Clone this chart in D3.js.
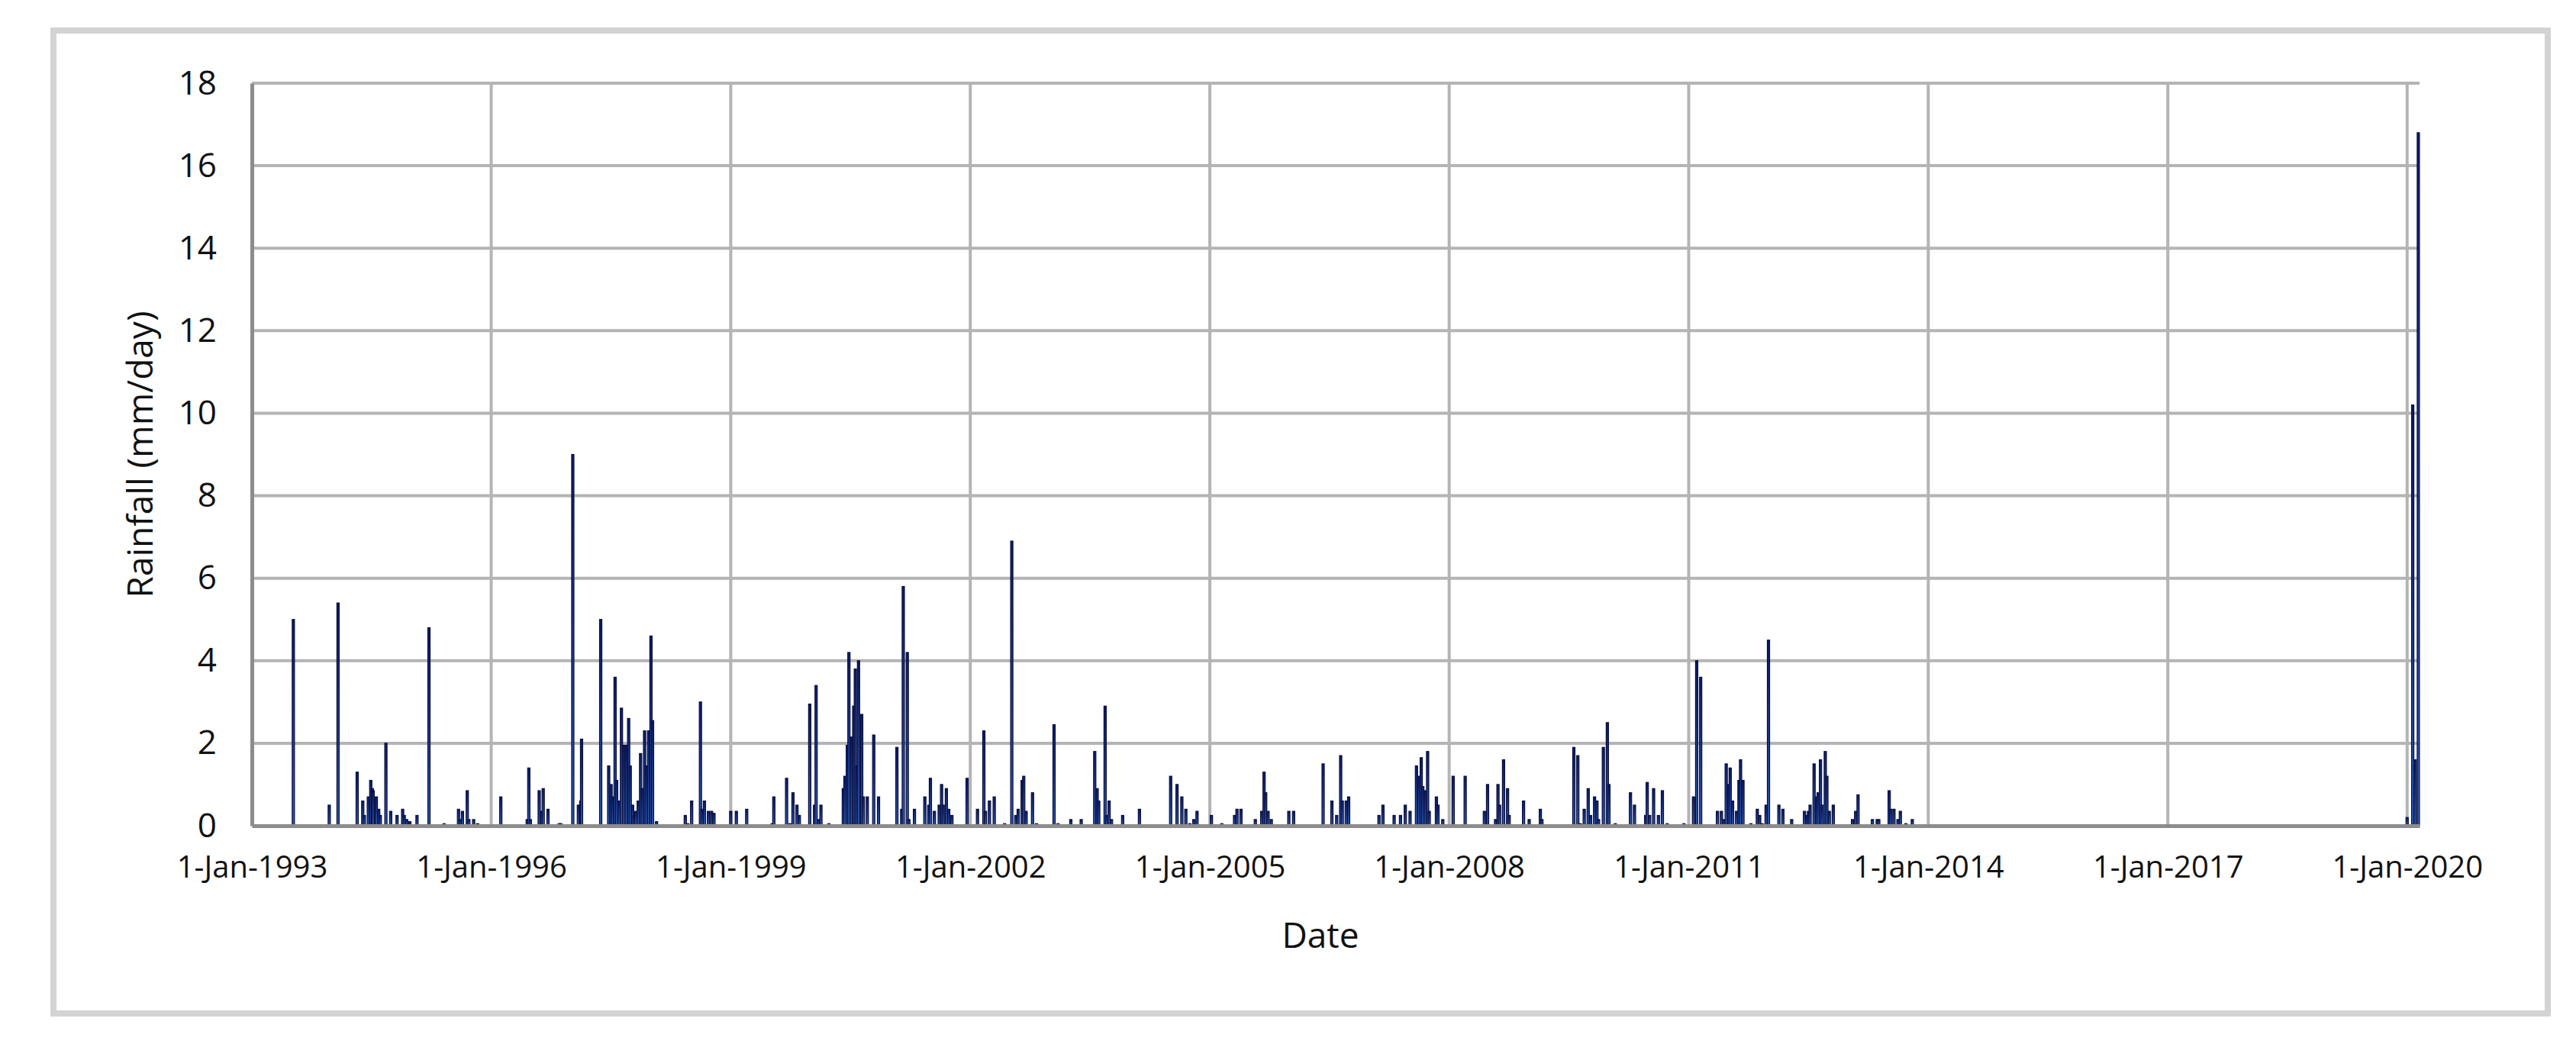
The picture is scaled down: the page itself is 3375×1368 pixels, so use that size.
<!DOCTYPE html>
<html><head><meta charset="utf-8">
<script src="https://cdn.jsdelivr.net/npm/d3@7/dist/d3.min.js"></script>
<style>body{margin:0;background:#fff}svg{display:block}</style>
</head><body>
<svg id="c" width="3375" height="1368"></svg>
<script>
// decimal-year positions of rain days and rainfall (mm/day)
const dates = [
1993.52,1993.97,1994.08,1994.32,1994.39,1994.41,1994.46,1994.49,1994.51,1994.52,1994.56,1994.59,1994.61,1994.68,1994.74,1994.82,1994.89,1994.91,1994.94,1994.98,1995.07,1995.22,
1995.41,1995.59,1995.61,1995.64,1995.70,1995.72,1995.78,1995.83,1996.12,1996.45,1996.47,1996.49,1996.60,1996.63,1996.65,1996.71,1996.85,1996.87,
1997.02,1997.09,1997.12,1997.13,1997.37,
1997.47,1997.50,1997.52,1997.55,1997.57,1997.60,1997.63,1997.66,1997.69,1997.72,1997.74,1997.77,1997.79,1997.81,1997.84,1997.87,1997.89,1997.92,1997.94,1997.97,1998.00,1998.02,1998.07,
1998.43,1998.46,1998.51,1998.62,1998.64,1998.67,1998.72,1998.76,1998.79,1999.00,1999.07,1999.20,1999.52,1999.54,1999.70,1999.74,1999.78,1999.83,1999.86,
1999.99,2000.05,2000.07,2000.10,2000.13,2000.23,
2000.41,2000.43,2000.46,2000.48,2000.51,2000.54,2000.56,2000.58,2000.60,2000.64,2000.66,2000.71,2000.79,2000.85,
2001.08,2001.14,2001.16,2001.21,2001.23,2001.30,2001.43,2001.48,2001.50,2001.55,2001.61,2001.64,2001.66,2001.70,2001.73,2001.77,2001.96,
2002.09,2002.17,2002.19,2002.24,2002.30,2002.43,2002.52,2002.57,2002.60,2002.65,2002.67,2002.70,2002.78,2002.83,2003.05,2003.10,2003.26,2003.39,
2003.56,2003.59,2003.61,2003.69,2003.71,2003.74,2003.77,2003.91,2004.12,2004.51,2004.59,2004.65,2004.70,2004.75,2004.80,2004.84,
2005.02,2005.15,2005.31,2005.34,2005.39,2005.57,2005.65,2005.68,2005.70,2005.73,2005.77,2005.99,2006.05,
2006.42,2006.53,2006.59,2006.64,2006.66,2006.71,2006.74,2007.12,2007.17,
2007.31,2007.39,2007.45,2007.51,2007.59,2007.62,2007.65,2007.67,2007.70,2007.73,2007.75,2007.84,2007.86,2007.92,2008.05,2008.20,
2008.44,2008.48,2008.58,2008.61,2008.63,2008.68,2008.73,2008.75,2008.93,2009.00,2009.14,2009.16,
2009.56,2009.61,2009.64,2009.69,2009.74,2009.77,2009.82,2009.85,2009.87,2009.93,2009.98,2010.00,
2010.08,2010.27,2010.32,2010.46,2010.48,2010.51,2010.56,2010.62,2010.67,2010.73,2010.94,
2011.06,2011.10,2011.15,2011.36,2011.41,2011.44,2011.47,2011.50,2011.52,2011.55,2011.60,2011.63,2011.65,2011.68,
2011.78,2011.86,2011.89,2011.92,2011.97,2012.00,2012.13,2012.18,2012.29,
2012.45,2012.48,2012.50,2012.52,2012.57,2012.60,2012.62,2012.65,2012.67,2012.71,2012.73,2012.76,2012.81,
2013.05,2013.09,2013.12,2013.30,2013.36,2013.38,2013.51,2013.53,2013.57,2013.62,2013.65,2013.72,2013.80,
2020.00,2020.07,2020.10,2020.14
];
const rainfall = [
5.0,0.5,5.4,1.3,0.6,0.25,0.7,1.1,0.9,0.85,0.7,0.4,0.25,2.0,0.35,0.25,0.4,0.25,0.15,0.1,0.25,4.8,
0.05,0.4,0.15,0.35,0.85,0.15,0.15,0.05,0.7,0.15,1.4,0.15,0.85,0.35,0.9,0.4,0.05,0.05,
9.0,0.5,0.6,2.1,5.0,
1.45,1.0,0.7,3.6,1.1,0.6,2.85,1.95,1.95,2.6,1.45,0.5,0.25,0.35,0.6,1.75,0.9,2.3,1.45,2.3,4.6,2.55,0.1,
0.25,0.05,0.6,3.0,0.4,0.6,0.35,0.35,0.3,0.35,0.35,0.4,0.05,0.7,1.15,0.05,0.8,0.5,0.25,
2.95,0.5,3.4,0.15,0.5,0.05,
0.9,1.2,1.95,4.2,2.15,2.9,3.8,1.45,4.0,2.7,0.7,0.7,2.2,0.7,
1.9,0.4,5.8,4.2,0.15,0.4,0.7,0.5,1.15,0.35,0.5,1.0,0.5,0.9,0.4,0.25,1.15,
0.4,2.3,0.35,0.6,0.7,0.05,6.9,0.25,0.4,1.1,1.2,0.35,0.8,0.05,2.45,0.05,0.15,0.15,
1.8,0.9,0.6,2.9,0.25,0.6,0.15,0.25,0.4,1.2,1.0,0.7,0.4,0.05,0.15,0.35,
0.25,0.05,0.25,0.4,0.4,0.15,0.35,1.3,0.8,0.35,0.15,0.35,0.35,
1.5,0.6,0.25,1.7,0.6,0.6,0.7,0.25,0.5,
0.25,0.25,0.5,0.35,1.45,1.2,1.65,0.95,0.85,1.8,0.35,0.7,0.5,0.15,1.2,1.2,
0.35,1.0,0.15,1.0,0.5,1.6,0.9,0.25,0.6,0.15,0.4,0.15,
1.9,1.7,0.05,0.4,0.9,0.25,0.7,0.6,0.15,1.9,2.5,1.0,
0.05,0.8,0.5,0.25,1.05,0.25,0.9,0.25,0.85,0.05,0.05,
0.7,4.0,3.6,0.35,0.35,0.15,1.5,1.0,1.4,0.6,0.35,1.1,1.6,1.1,
0.05,0.4,0.25,0.05,0.5,4.5,0.5,0.4,0.15,
0.35,0.25,0.35,0.5,1.5,0.7,0.8,1.6,0.5,1.8,1.2,0.35,0.5,
0.15,0.35,0.75,0.15,0.15,0.15,0.85,0.4,0.4,0.15,0.35,0.05,0.15,
0.2,10.2,1.6,16.8
];
const xTickYears = [1993,1996,1999,2002,2005,2008,2011,2014,2017,2020];
const xTickLabels = ["1-Jan-1993","1-Jan-1996","1-Jan-1999","1-Jan-2002","1-Jan-2005","1-Jan-2008","1-Jan-2011","1-Jan-2014","1-Jan-2017","1-Jan-2020"];
const yTicks = [0,2,4,6,8,10,12,14,16,18];
const xTitle = "Date", yTitle = "Rainfall (mm/day)";

const toDate = y => { const yr = Math.floor(y); const s = new Date(yr,0,1), e = new Date(yr+1,0,1); return new Date(+s + (y-yr)*(e-s)); };
const data = dates.map((d,i)=>({date:toDate(d), v:rainfall[i]}));

const svg = d3.select("#c");
const font = "'Open Sans', 'Liberation Sans', Arial, sans-serif";
svg.append("rect").attr("x",70).attr("y",40).attr("width",3268).attr("height",1288)
  .attr("fill","#fff").attr("stroke","#d3d3d3").attr("stroke-width",8);

const L=330, R=3170, T=109, B=1082;
const x = d3.scaleTime().domain([toDate(1993), toDate(2020.155)]).range([L,R]);
const y = d3.scaleLinear().domain([0,18]).range([B,T]);
const grid = svg.append("g").attr("stroke","#b4b4b4").attr("stroke-width",4);
yTicks.slice(1).forEach(t=>grid.append("line").attr("x1",L).attr("x2",R).attr("y1",y(t)).attr("y2",y(t)));
xTickYears.slice(1).forEach(t=>grid.append("line").attr("x1",x(toDate(t))).attr("x2",x(toDate(t))).attr("y1",T).attr("y2",B));

const defs = svg.append("defs");
const g = defs.append("linearGradient").attr("id","bg").attr("x1",0).attr("x2",0).attr("y1",0).attr("y2",1);
g.append("stop").attr("offset","0").attr("stop-color","#0b1a66");
g.append("stop").attr("offset","1").attr("stop-color","#2d5bb5");

svg.append("g").selectAll("rect").data(data).join("rect")
  .attr("x",d=>x(d.date)-1.5).attr("width",3)
  .attr("y",d=>y(d.v)).attr("height",d=>B-y(d.v))
  .attr("fill","url(#bg)").attr("stroke","#0a0f3c").attr("stroke-width",1.2);

// axes
const ax = svg.append("g").attr("transform",`translate(0,${B})`)
  .call(d3.axisBottom(x).tickValues(xTickYears.map(toDate)).tickFormat((d,i)=>xTickLabels[i]).tickSize(0).tickPadding(40));
ax.select(".domain").attr("stroke","#8c8c8c").attr("stroke-width",5);
ax.selectAll("text").attr("font-family",font).attr("font-size",40).attr("fill","#111");
const ay = svg.append("g").attr("transform",`translate(${L},0)`)
  .call(d3.axisLeft(y).tickValues(yTicks).tickSize(0).tickPadding(46));
ay.select(".domain").attr("stroke","#8c8c8c").attr("stroke-width",5);
ay.selectAll("text").attr("font-family",font).attr("font-size",44).attr("fill","#111");

svg.append("text").attr("x",(L+R)/2 - 20).attr("y",1242).attr("text-anchor","middle")
  .attr("font-family",font).attr("font-size",46).attr("fill","#111").text(xTitle);
svg.append("text").attr("transform",`translate(200,${(T+B)/2}) rotate(-90)`).attr("text-anchor","middle")
  .attr("font-family",font).attr("font-size",46).attr("fill","#111").text(yTitle);
</script></body></html>
